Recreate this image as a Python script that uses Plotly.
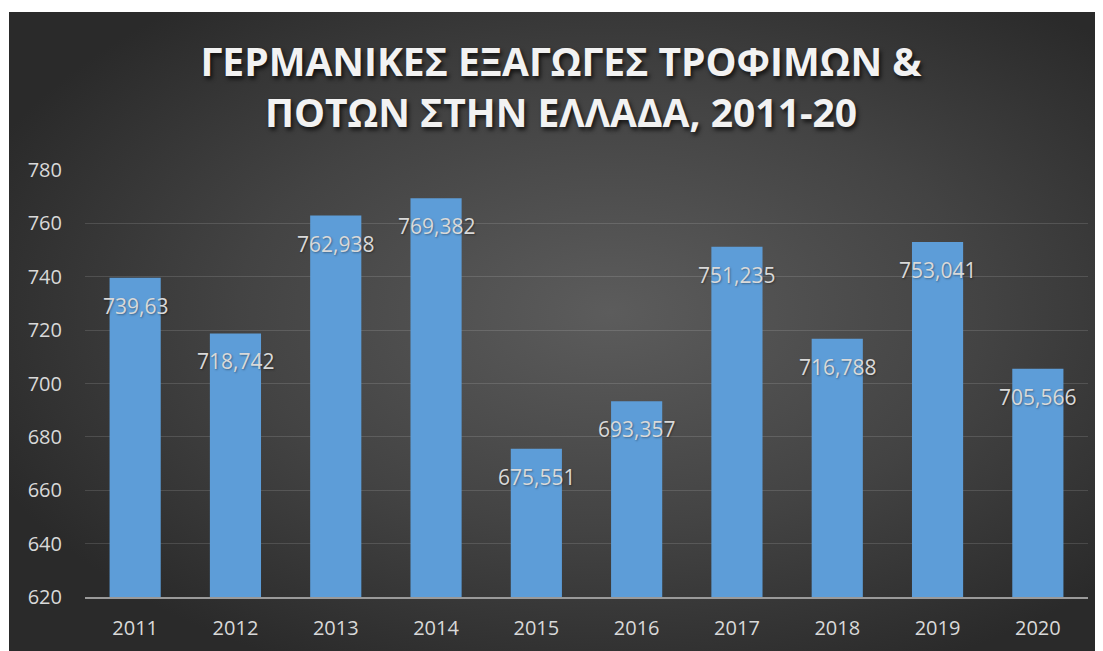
import base64
import plotly.graph_objects as go

years = ["2011", "2012", "2013", "2014", "2015", "2016", "2017", "2018", "2019", "2020"]
values = [739.63, 718.742, 762.938, 769.382, 675.551, 693.357, 751.235, 716.788, 753.041, 705.566]
y_ticks = [620, 640, 660, 680, 700, 720, 740, 760, 780]
title_text = "ΓΕΡΜΑΝΙΚΕΣ ΕΞΑΓΩΓΕΣ ΤΡΟΦΙΜΩΝ &<br>ΠΟΤΩΝ ΣΤΗΝ ΕΛΛΑΔΑ, 2011-20"

# page body adds 8px margin, so the figure is 8px smaller on each axis
W, H = 1095, 643
L, R, T, B = 77, 15, 162, 54
pw, ph = W - L - R, H - T - B

def fmt(v):
    return f"{v:g}".replace(".", ",")

svg = (
    '<svg xmlns="http://www.w3.org/2000/svg" width="1094" height="639" '
    'viewBox="0 0 1094 639" preserveAspectRatio="none">'
    '<defs><radialGradient id="g" cx="0.55" cy="0.47" r="0.62">'
    '<stop offset="0" stop-color="#5c5c5c"/>'
    '<stop offset="0.55" stop-color="#434343"/>'
    '<stop offset="1" stop-color="#2a2a2a"/>'
    '</radialGradient></defs>'
    '<rect x="0" y="0" width="1094" height="639" fill="url(#g)"/></svg>'
)
bg_src = "data:image/svg+xml;base64," + base64.b64encode(svg.encode()).decode()

fig = go.Figure()
fig.add_trace(go.Bar(
    x=years, y=values,
    marker=dict(color="#5d9dd8", line=dict(width=0)),
    hoverinfo="x+y",
))

for i, v in enumerate(values):
    fig.add_annotation(
        x=i, y=v, text=fmt(v), showarrow=False, yshift=-28,
        font=dict(family="Open Sans", size=21, color="#d9d9d9",
                  shadow="1px 1px 2px rgba(0,0,0,0.35)"),
    )

fig.add_layout_image(
    source=bg_src, xref="paper", yref="paper",
    x=(1 - L) / pw, y=(H - B - 4) / ph, sizex=(W - 1) / pw, sizey=(H - 4) / ph,
    xanchor="left", yanchor="top", sizing="stretch", layer="below",
)

fig.update_layout(
    width=W, height=H,
    margin=dict(l=L, r=R, t=T, b=B, autoexpand=False),
    paper_bgcolor="white",
    plot_bgcolor="rgba(0,0,0,0)",
    bargap=0.49,
    showlegend=False,
    title=dict(
        text=title_text, x=553 / W, xanchor="center",
        y=1 - 68 / H, yanchor="top", xref="container", yref="container",
        font=dict(family="Open Sans", size=39, color="#f2f2f2", weight="bold",
                  shadow="2px 3px 4px rgba(0,0,0,0.7)"),
    ),
    xaxis=dict(
        type="category", range=[-0.5, 9.5], showgrid=False, zeroline=False,
        automargin=False,
        showline=True, linecolor="#9a9a9a", linewidth=2,
        ticks="outside", ticklen=12, tickcolor="rgba(0,0,0,0)",
        tickfont=dict(family="Open Sans", size=20, color="#d9d9d9"),
    ),
    yaxis=dict(
        range=[620, 780], tickvals=y_ticks, ticktext=[str(t) for t in y_ticks],
        automargin=False,
        showgrid=True, gridcolor="rgba(255,255,255,0.13)", gridwidth=1,
        zeroline=False, showline=False,
        ticks="outside", ticklen=18, tickcolor="rgba(0,0,0,0)",
        tickfont=dict(family="Open Sans", size=20, color="#d9d9d9"),
    ),
)

fig.write_html("out.html")
